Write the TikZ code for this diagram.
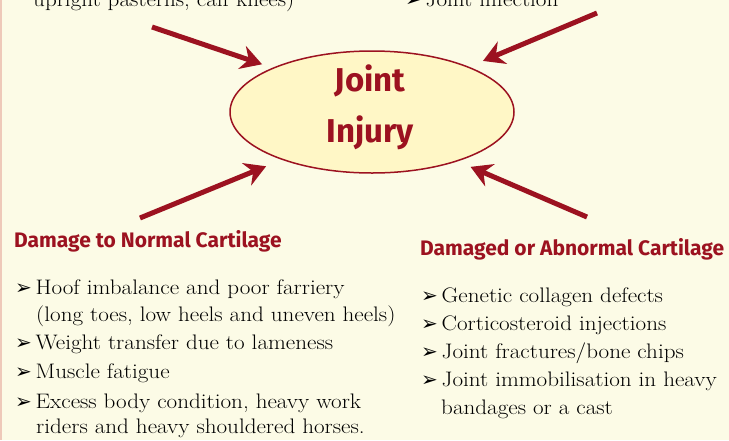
\documentclass[tikz,border=0pt]{standalone}
\usepackage{fontspec}
\usepackage{tikz}
\usetikzlibrary{calc,positioning,arrows.meta,shapes.geometric}
\usepackage{xcolor}

\setmainfont{Latin Modern Roman}[FakeStretch=1.1]
\newfontfamily\headfont{Fira Sans}
\newfontfamily\tickfont{DejaVu Sans}
\definecolor{paper}{HTML}{FCFBE6}
\definecolor{rim}{HTML}{EEC9B9}
\definecolor{jointred}{HTML}{9C1220}
\definecolor{yolk}{HTML}{FFF7C6}

\newcommand{\tick}{\makebox[20.5pt][l]{\tickfont\fontsize{20}{20}\selectfont ➢}}

\begin{document}
\begin{tikzpicture}[x=1pt, y=-1pt,
    body/.style={anchor=base west, inner sep=0pt, font=\fontsize{21}{25}\selectfont},
    head/.style={anchor=base west, inner sep=0pt, text=jointred, font=\headfont\bfseries\fontsize{21}{25}\selectfont},
    push/.style={draw=jointred, line width=5pt, -{Stealth[length=21pt, width=24pt, inset=7pt]}}]
\useasboundingbox (0,0) rectangle (729,440);
\clip (0,0) rectangle (729,440);
\fill[paper] (0,0) rectangle (729,440);
\draw[rim, line width=1.5pt] (0.75,0) -- (0.75,440);

\node [ellipse, draw=jointred, line width=1.5pt, fill=yolk, minimum width=284pt, minimum height=122pt,
       inner sep=0pt, outer sep=0pt] (injury) at (372,112) {};
\node [align=center, text=jointred, inner sep=0pt,
       font=\headfont\bfseries\fontsize{33}{51}\selectfont] (injurytext) at (370,107) {Joint\\Injury};

\node [body] (upright)  at (33,6)   {upright pasterns, calf knees)};
\node [body] (infect)   at (405,6)  {\tick Joint infection};

\coordinate (tl) at (152,27);
\coordinate (tr) at (597,13);
\coordinate (bl) at (140,218);
\coordinate (br) at (587,217);

\draw [push, shorten >=12pt] (tl) -- (injury.156);
\draw [push, shorten >=16pt] (tr) -- (injury.25);
\draw [push, shorten >=18pt] (bl) -- (injury.208);
\draw [push, shorten >=15pt] (br) -- (injury.330);

\node [head] (normal)   at (14,247)  {Damage to Normal Cartilage};
\node [head] (abnormal) at (420,255) {Damaged or Abnormal Cartilage};

\node [body] (hoof)     at (15,294)  {\tick Hoof imbalance and poor farriery};
\node [body] (toes)     at (36,321)  {(long toes, low heels and uneven heels)};
\node [body] (weight)   at (15,349)  {\tick Weight transfer due to lameness};
\node [body] (muscle)   at (15,378)  {\tick Muscle fatigue};
\node [body] (excess)   at (15,408)  {\tick Excess body condition, heavy work};
\node [body] (riders)   at (36,433)  {riders and heavy shouldered horses.};

\node [body] (genetic)  at (421,302) {\tick Genetic collagen defects};
\node [body] (steroid)  at (421,330) {\tick Corticosteroid injections};
\node [body] (fracture) at (421,358) {\tick Joint fractures/bone chips};
\node [body] (immob)    at (421,386) {\tick Joint immobilisation in heavy};
\node [body] (bandage)  at (441,414) {bandages or a cast};
\end{tikzpicture}
\end{document}
